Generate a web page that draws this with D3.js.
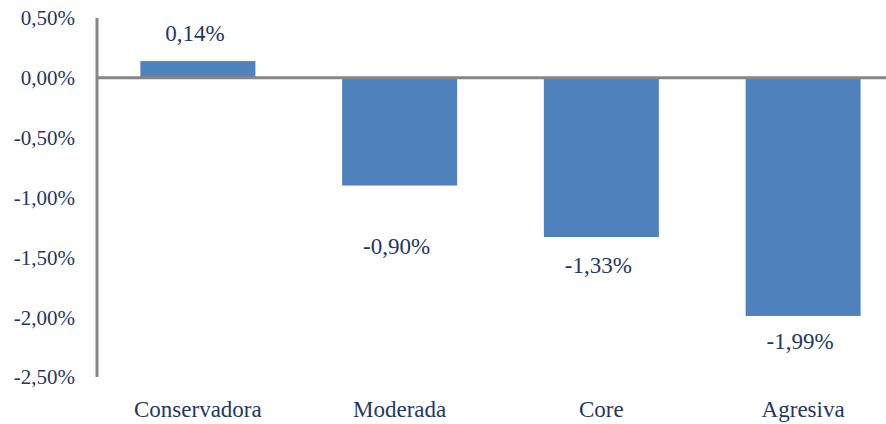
<!DOCTYPE html>
<html>
<head>
    <meta charset="utf-8">
    <script type="text/javascript" src="https://d3js.org/d3.v7.min.js"></script>
    <style>
body { margin: 0; background: #fff; }
text { font-family: "Liberation Serif", "Times New Roman", serif; fill: #1F3864; }
    </style>
</head>
<body>
    <svg width="886" height="424"></svg>

    <script type="text/javascript">

	// chart values
	var categories = ["Conservadora", "Moderada", "Core", "Agresiva"];
	var values = [0.14, -0.90, -1.33, -1.99];
	var yTicks = [0.5, 0, -0.5, -1, -1.5, -2, -2.5];
	// label nudges (px below/above bar end)
	var labelDy = [-20, 68, 36, 33];

	var fmt = function(v) { return d3.format(".2f")(v).replace(".", ",").replace("\u2212", "-") + "%"; };

	var svg = d3.select("svg");

	var x = d3.scaleBand()
		.domain(categories)
		.range([97, 904])
		.paddingInner(0.43)
		.paddingOuter(0.215);

	var y = d3.scaleLinear()
		.domain([-2.5, 0.5])
		.range([377, 18]);

	// y tick labels
	svg.selectAll(".ytick")
		.data(yTicks)
		.enter().append("text")
		.attr("class", "ytick")
		.attr("x", 75)
		.attr("y", function(d) { return y(d); })
		.attr("dy", "0.35em")
		.attr("text-anchor", "end")
		.style("font-size", "21px")
		.text(fmt);

	// bars
	svg.selectAll(".bar")
		.data(values)
		.enter().append("rect")
		.attr("class", "bar")
		.attr("x", function(d, i) { return x(categories[i]); })
		.attr("width", x.bandwidth())
		.attr("y", function(d) { return y(Math.max(0, d)); })
		.attr("height", function(d) { return Math.abs(y(d) - y(0)); })
		.attr("fill", "#4F81BD");

	// axes lines
	svg.append("line")
		.attr("x1", 97).attr("x2", 97)
		.attr("y1", y(0.5)).attr("y2", y(-2.5))
		.attr("stroke", "#868686").attr("stroke-width", 3);

	svg.append("line")
		.attr("x1", 97).attr("x2", 886)
		.attr("y1", y(0)).attr("y2", y(0))
		.attr("stroke", "#868686").attr("stroke-width", 3);

	// value labels
	svg.selectAll(".vlabel")
		.data(values)
		.enter().append("text")
		.attr("class", "vlabel")
		.attr("x", function(d, i) { return x(categories[i]) + x.bandwidth() / 2 - 3; })
		.attr("y", function(d, i) { return y(d) + labelDy[i]; })
		.attr("text-anchor", "middle")
		.style("font-size", "23px")
		.text(fmt);

	// category labels
	svg.selectAll(".xlabel")
		.data(categories)
		.enter().append("text")
		.attr("class", "xlabel")
		.attr("x", function(d) { return x(d) + x.bandwidth() / 2; })
		.attr("y", 417)
		.attr("text-anchor", "middle")
		.style("font-size", "23px")
		.text(function(d) { return d; });

	</script>
</body>
</html>
